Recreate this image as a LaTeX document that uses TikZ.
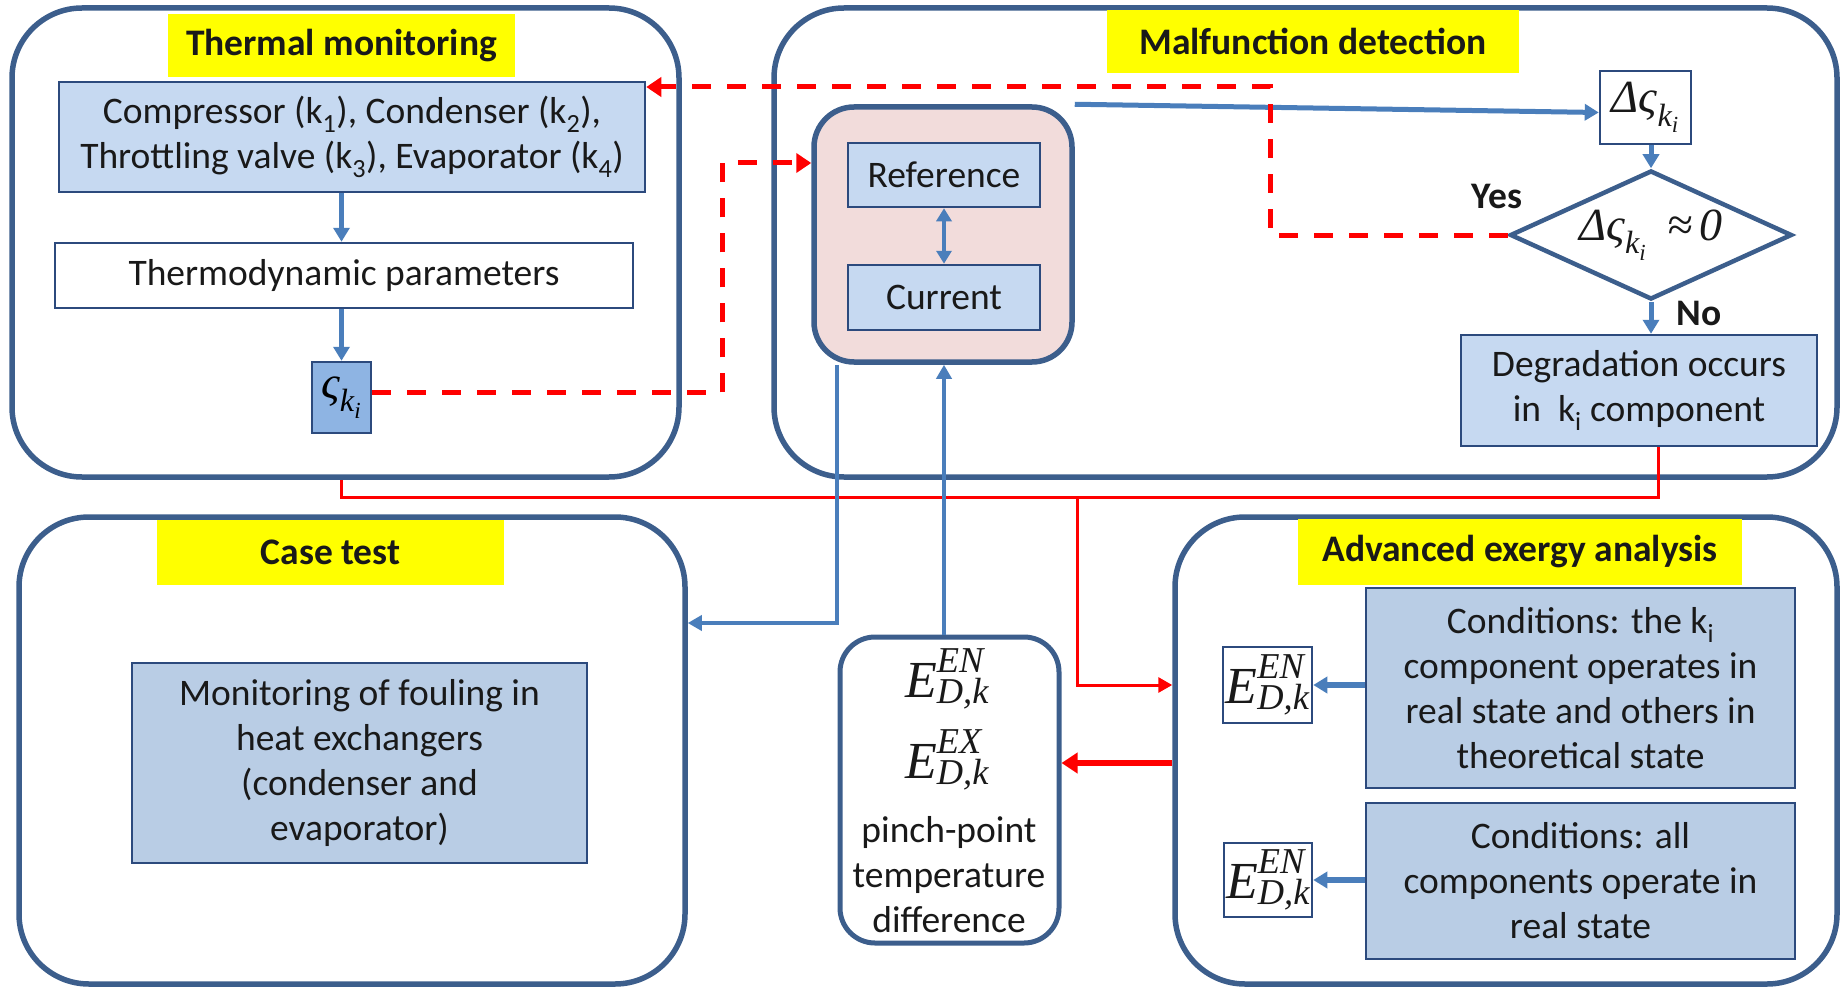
\documentclass[tikz,border=0pt]{standalone}
\usepackage{fontspec}
\usepackage{amsmath}
\setmainfont{Carlito}
\newfontfamily\tnr{Liberation Serif}
\usetikzlibrary{arrows.meta,shapes.geometric}
% italic Times-like math letters
\newcommand\mi[1]{\text{\tnr\itshape #1}}
\newcommand\bodyfont{\fontsize{37.5}{45}\selectfont}
\newcommand\titlefont{\fontsize{37.5}{45}\selectfont\bfseries}
\newcommand\symfont{\fontsize{46}{50}\selectfont}
\newcommand\efont{\fontsize{52}{56}\selectfont}
\definecolor{outc}{RGB}{60,94,140}
\definecolor{inc}{RGB}{44,74,125}
\definecolor{lb}{RGB}{198,217,241}
\definecolor{gb}{RGB}{185,205,229}
\definecolor{sb}{RGB}{142,180,227}
\definecolor{pk}{RGB}{242,220,219}
\definecolor{arrc}{RGB}{74,126,187}
\definecolor{yel}{RGB}{255,255,0}
\definecolor{txt}{RGB}{25,25,25}
\begin{document}
\begin{tikzpicture}[x=1pt,y=-1pt,
  outerbox/.style={draw=outc, line width=5.5pt, rounded corners=70pt, inner sep=0pt},
  titlebox/.style={fill=yel, inner sep=0pt, font=\titlefont, text=txt},
  lightbox/.style={draw=inc, fill=lb, line width=2.5pt, inner sep=0pt, align=center, font=\bodyfont, text=txt},
  greybox/.style={draw=inc, fill=gb, line width=2pt, inner sep=0pt, align=center, font=\bodyfont, text=txt},
  whitebox/.style={draw=inc, fill=white, line width=2.5pt, inner sep=0pt, align=center, font=\bodyfont, text=txt},
  barrow/.style={draw=arrc, line width=5pt, -{Triangle[length=14pt,width=16pt]}},
  reddash/.style={draw=red, line width=5pt, dash pattern=on 19pt off 16pt, -{Triangle[length=15pt,width=19pt]}},
  redline/.style={draw=red, line width=3pt},
  redarr/.style={draw=red, line width=3pt, -{Triangle[length=14pt,width=15pt]}},
  redthick/.style={draw=red, line width=5.5pt, -{Triangle[length=16pt,width=20pt]}},
  lbl/.style={inner sep=0pt, font=\titlefont, text=txt}
]
\useasboundingbox (0,0) rectangle (1841,987);

% the four panels
\node[outerbox, minimum width=667pt, minimum height=469pt] (thermal) at (345.5,242.5) {};
\node[outerbox, minimum width=1063pt, minimum height=469pt] (malf) at (1305.5,242.5) {};
\node[outerbox, minimum width=666pt, minimum height=467pt] (case) at (352,750.5) {};
\node[outerbox, minimum width=662pt, minimum height=467pt] (adv) at (1506,750.5) {};

% panel titles
\node[titlebox, minimum width=347pt, minimum height=63pt] (tTM) at (341.5,45.5) {Thermal monitoring};
\node[titlebox, minimum width=412pt, minimum height=63pt] (tMD) at (1313,41.5) {Malfunction detection};
\node[titlebox, minimum width=347pt, minimum height=65pt] (tCT) at (330.5,552.5) {Case test};
\node[titlebox, minimum width=444pt, minimum height=66pt] (tAA) at (1520,552) {Advanced exergy analysis};

% thermal monitoring
\node[lightbox, minimum width=586pt, minimum height=110pt] (comp) at (352,137)
  {Compressor (k\textsubscript{1}), Condenser (k\textsubscript{2}),\\Throttling valve (k\textsubscript{3}), Evaporator (k\textsubscript{4})};
\node[whitebox, minimum width=578pt, minimum height=65pt] (thermo) at (344,275.5) {Thermodynamic parameters};
\node[draw=inc, fill=sb, line width=2.5pt, inner sep=0pt, minimum width=59pt, minimum height=71pt, font=\symfont] (sig) at (341.5,397.5)
  {$\mi{ς}_{\mi{k}_{\mi{i}}}$};

\draw[barrow] (sig |- comp.south) -- (sig |- thermo.north);
\draw[barrow] (sig |- thermo.south) -- (sig.north);

% malfunction detection
\node[draw=outc, fill=pk, line width=5.5pt, rounded corners=40pt, inner sep=0pt, minimum width=258pt, minimum height=255pt] (pink) at (943,234.5) {};
\node[lightbox, minimum width=192pt, minimum height=64pt] (ref) at (944,175) {Reference};
\node[lightbox, minimum width=192pt, minimum height=65pt] (cur) at (944,297.5) {Current};
\draw[draw=arrc, line width=4pt, {Triangle[length=13pt,width=15pt]}-{Triangle[length=13pt,width=15pt]}] (ref.south) -- (cur.north);

\node[whitebox, minimum width=91pt, minimum height=73pt, font=\symfont] (dsig) at (1645.5,107.5)
  {$\mi{Δς}_{\mi{k}_{\mi{i}}}$};
\node[diamond, draw=outc, fill=white, line width=4.5pt, inner sep=0pt, minimum width=282pt, minimum height=129pt] (dia) at (1651,235) {};
\node[inner sep=0pt, font=\symfont, text=txt] (diatxt) at (dia.center)
  {$\mi{Δς}_{\mi{k}_{\mi{i}}}\;\;\mathrel{\text{\tnr\itshape ≈}}\mi{0}$};
\node[lightbox, minimum width=356pt, minimum height=111pt] (degr) at (1639,390.5)
  {Degradation occurs\\in\ \ k\textsubscript{i} component};
\node[lbl] (yes) at (1497,196) {Yes};
\node[lbl] (no) at (1699,313) {No};

\draw[barrow] (pink.north east) -- ([yshift=-5pt]dsig.west);
\draw[barrow] (dsig.south -| dia.north) -- (dia.north);
\draw[barrow] (dia.south) -- (dia.south |- degr.north);

% feedback loops (dashed)
\coordinate (k1) at (722,163);
\coordinate (k2) at (1270,87);
\draw[reddash] ([yshift=5pt]sig.east) -| (k1) -- (k1 -| pink.west);
\draw[reddash] (dia.west) -| (k2) -- (k2 -| comp.east);

% case test
\node[greybox, minimum width=455pt, minimum height=200pt] (mon) at (359.5,763)
  {Monitoring of fouling in\\heat exchangers\\(condenser and\\evaporator)};

% pinch-point block
\node[draw=outc, fill=white, line width=5pt, rounded corners=35pt, inner sep=0pt, minimum width=219pt, minimum height=306pt] (pinch) at (949.5,790) {};
\node[inner sep=0pt, font=\efont, text=txt] (pe1) at (947,679) {$\mi{E}^{\mi{EN}}_{\mi{D,k}}$};
\node[inner sep=0pt, font=\efont, text=txt] (pe2) at (947,760) {$\mi{E}^{\mi{EX}}_{\mi{D,k}}$};
\node[inner sep=0pt, font=\bodyfont, text=txt, align=center] (ptxt) at (949,875) {pinch-point\\temperature\\difference};

% advanced exergy analysis
\node[greybox, minimum width=429pt, minimum height=200pt] (c1) at (1580.5,688)
  {Conditions: the k\textsubscript{i}\\component operates in\\real state and others in\\theoretical state};
\node[greybox, minimum width=429pt, minimum height=156pt] (c2) at (1580.5,881)
  {Conditions: all\\components operate in\\real state};
\node[whitebox, minimum width=89pt, minimum height=76pt, font=\efont] (e1) at (1267.5,685) {$\mi{E}^{\mi{EN}}_{\mi{D,k}}$};
\node[whitebox, minimum width=88pt, minimum height=74pt, font=\efont] (e2) at (1268,880) {$\mi{E}^{\mi{EN}}_{\mi{D,k}}$};
\draw[barrow, line width=5.5pt] (c1.west |- e1) -- (e1.east);
\draw[barrow, line width=5.5pt] (c2.west |- e2) -- (e2.east);

% links between panels
\coordinate (rj) at (1658,497);
\coordinate (bj) at (1077,497);
\coordinate (bl) at (837,623);
\coordinate (rt) at (0,763);
\draw[redline] (sig |- thermal.south) |- (rj) -- (rj |- degr.south);
\draw[redarr] (bj) |- (adv.west |- e1);
\draw[redthick] (adv.west |- rt) -- (pinch.east |- rt);
\draw[draw=arrc, line width=3.5pt, -{Triangle[length=14pt,width=15pt]}] (bl |- pink.south) |- (case.east |- bl);
\draw[draw=arrc, line width=4.5pt, -{Triangle[length=14pt,width=15pt]}] (cur |- pinch.north) -- (cur |- pink.south);
\end{tikzpicture}
\end{document}
